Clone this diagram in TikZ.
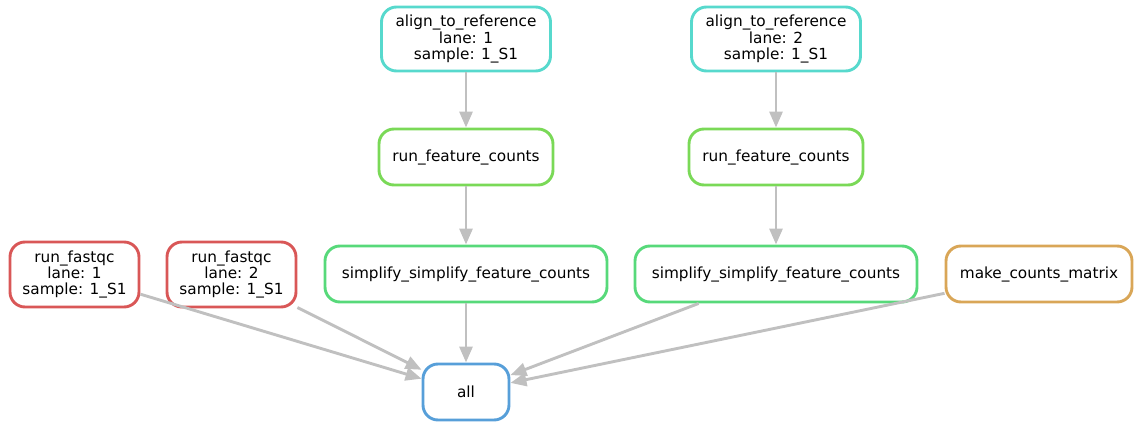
\documentclass[tikz,border=0pt]{standalone}
\usepackage{fontspec}
\setmainfont{DejaVu Sans}
\usetikzlibrary{arrows.meta}
\definecolor{cAlign}{RGB}{87,217,205}
\definecolor{cCount}{RGB}{122,217,87}
\definecolor{cSimp}{RGB}{87,217,122}
\definecolor{cQc}{RGB}{217,87,87}
\definecolor{cMat}{RGB}{217,166,87}
\definecolor{cAll}{RGB}{87,159,217}
\definecolor{cEdge}{RGB}{192,192,192}
\begin{document}
\begin{tikzpicture}[x=1pt,y=-1pt,
  job/.style={draw, rounded corners=15pt, line width=2.9pt, fill=white,
    align=center, inner sep=0pt,
    font=\fontsize{15.3}{16.2}\selectfont},
  dep/.style={draw=cEdge, line width=2.9pt,
    -{Triangle[length=16pt,width=13pt]}}]
\useasboundingbox (0,0) rectangle (1136,423);

% upstream alignment jobs
\node[job, draw=cAlign, minimum width=169pt, minimum height=64pt] (al1) at (466,39)
  {align\_to\_reference\\lane: 1\\sample: 1\_S1};
\node[job, draw=cAlign, minimum width=169pt, minimum height=64pt] (al2) at (776,39)
  {align\_to\_reference\\lane: 2\\sample: 1\_S1};

% counting
\node[job, draw=cCount, minimum width=174pt, minimum height=56pt] (fc1) at (466,157)
  {run\_feature\_counts};
\node[job, draw=cCount, minimum width=174pt, minimum height=56pt] (fc2) at (776,157)
  {run\_feature\_counts};

% simplification
\node[job, draw=cSimp, minimum width=282pt, minimum height=56pt] (sf1) at (466,274)
  {simplify\_simplify\_feature\_counts};
\node[job, draw=cSimp, minimum width=282pt, minimum height=56pt] (sf2) at (776,274)
  {simplify\_simplify\_feature\_counts};

% quality control
\node[job, draw=cQc, minimum width=129pt, minimum height=65pt] (qc1) at (74.5,274.5)
  {run\_fastqc\\lane: 1\\sample: 1\_S1};
\node[job, draw=cQc, minimum width=129pt, minimum height=65pt] (qc2) at (231.5,274.5)
  {run\_fastqc\\lane: 2\\sample: 1\_S1};

% matrix
\node[job, draw=cMat, minimum width=186pt, minimum height=56pt] (mx) at (1039,274)
  {make\_counts\_matrix};

% target
\node[job, draw=cAll, minimum width=86pt, minimum height=56pt] (all) at (466,392)
  {all};

% dependencies
\draw[dep] (al1) -- (fc1);
\draw[dep] (al2) -- (fc2);
\draw[dep] (fc1) -- (sf1);
\draw[dep] (fc2) -- (sf2);
\draw[dep] (qc1) -- (all);
\draw[dep] (qc2) -- (all);
\draw[dep] (sf1) -- (all);
\draw[dep] (sf2) -- (all);
\draw[dep] (mx) -- (all);
\end{tikzpicture}
\end{document}
